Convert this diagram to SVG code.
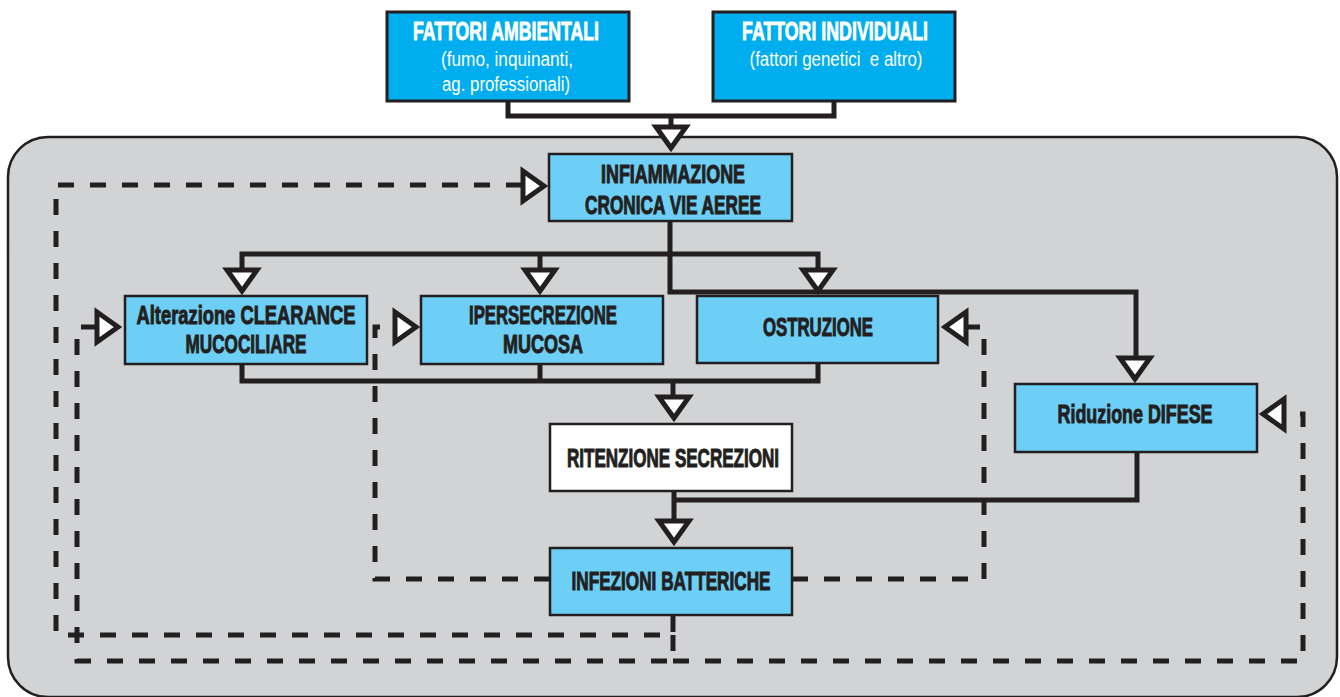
<svg xmlns="http://www.w3.org/2000/svg" width="1340" height="697" viewBox="0 0 1340 697">
<style>
.bg{fill:#D1D3D4;stroke:#231F20;stroke-width:2.5}
.top{fill:#00AEEF;stroke:#231F20;stroke-width:3}
.box{fill:#6DCFF6;stroke:#231F20;stroke-width:2.5}
.wbox{fill:#FFFFFF;stroke:#231F20;stroke-width:2.5}
.ln{fill:none;stroke:#231F20;stroke-width:5;stroke-linejoin:miter}
.dl{fill:none;stroke:#231F20;stroke-width:5;stroke-dasharray:16 16}
.ar{fill:#FFFFFF;stroke:#231F20;stroke-width:5;stroke-linejoin:miter}
.t{font-family:"Liberation Sans",Arial,sans-serif;font-weight:bold;font-size:26px;fill:#231F20;stroke:#231F20;stroke-width:1;text-anchor:middle}
.tw{font-family:"Liberation Sans",Arial,sans-serif;font-weight:bold;font-size:26px;fill:#FFFFFF;stroke:#FFFFFF;stroke-width:0.8;text-anchor:middle}
.s{font-family:"Liberation Sans",Arial,sans-serif;font-size:20px;fill:#FFFFFF;text-anchor:middle;white-space:pre}
</style>
<rect class="bg" x="8" y="137" width="1329" height="560" rx="40" ry="40"/>
<g id="connectors">
<path class="ln" d="M508,102 V116 H834 V102 M671,116 V128"/>
<path class="ln" d="M670,221 V292 H1136 V360"/>
<path class="ln" d="M242,272 V254 H818 V272 M540,254 V272"/>
<path class="ln" d="M242,364 V381 H818 V364 M540,364 V381 M673,381 V400"/>
<path class="ln" d="M674,492 V523 M674,500 H1137 V452"/>
<path class="dl" d="M550,579 H375 V327 H393"/>
<path class="dl" d="M792,579 H984 V327 H968"/>
<path class="dl" d="M673,616 V635 H56 V185 H521"/>
<path class="dl" d="M673,635 V661 H77 V327 H96"/>
<path class="dl" d="M673,661 H1303 V414 H1286"/>
<polygon class="ar" points="671,148 656,127 686,127"/>
<polygon class="ar" points="242,291 227,270 257,270"/>
<polygon class="ar" points="540,291 525,270 555,270"/>
<polygon class="ar" points="818,291 803,270 833,270"/>
<polygon class="ar" points="1135,379 1120,358 1150,358"/>
<polygon class="ar" points="674,418 659,397 689,397"/>
<polygon class="ar" points="674,542 659,521 689,521"/>
<polygon class="ar" points="544,186 523,171 523,201"/>
<polygon class="ar" points="118,327 97,312 97,342"/>
<polygon class="ar" points="416,327 395,312 395,342"/>
<polygon class="ar" points="945,327 966,312 966,342"/>
<polygon class="ar" points="1263,414 1284,399 1284,429"/>
</g>
<g id="n-ambientali">
<rect class="top" x="387" y="12" width="242" height="89"/>
<text class="tw" x="506" y="40" textLength="186" lengthAdjust="spacingAndGlyphs">FATTORI AMBIENTALI</text>
<text class="s" x="507" y="66" textLength="132" lengthAdjust="spacingAndGlyphs">(fumo, inquinanti,</text>
<text class="s" x="506" y="91" textLength="128" lengthAdjust="spacingAndGlyphs">ag. professionali)</text>
</g>
<g id="n-individuali">
<rect class="top" x="713" y="12" width="242" height="89"/>
<text class="tw" x="835" y="40" textLength="186" lengthAdjust="spacingAndGlyphs">FATTORI INDIVIDUALI</text>
<text class="s" x="836" y="66" textLength="173" lengthAdjust="spacingAndGlyphs" xml:space="preserve">(fattori genetici  e altro)</text>
</g>
<g id="n-infiammazione">
<rect class="box" x="549" y="154" width="243" height="67"/>
<text class="t" x="673" y="183" textLength="144" lengthAdjust="spacingAndGlyphs">INFIAMMAZIONE</text>
<text class="t" x="673" y="214" textLength="176" lengthAdjust="spacingAndGlyphs">CRONICA VIE AEREE</text>
</g>
<g id="n-clearance">
<rect class="box" x="125" y="296" width="242" height="68"/>
<text class="t" x="246" y="324" textLength="219" lengthAdjust="spacingAndGlyphs">Alterazione CLEARANCE</text>
<text class="t" x="246" y="353" textLength="121" lengthAdjust="spacingAndGlyphs">MUCOCILIARE</text>
</g>
<g id="n-ipersecrezione">
<rect class="box" x="421" y="296" width="242" height="68"/>
<text class="t" x="543" y="324" textLength="148" lengthAdjust="spacingAndGlyphs">IPERSECREZIONE</text>
<text class="t" x="543" y="353" textLength="80" lengthAdjust="spacingAndGlyphs">MUCOSA</text>
</g>
<g id="n-ostruzione">
<rect class="box" x="697" y="296" width="241" height="67"/>
<text class="t" x="818" y="336" textLength="110" lengthAdjust="spacingAndGlyphs">OSTRUZIONE</text>
</g>
<g id="n-difese">
<rect class="box" x="1015" y="384" width="242" height="68"/>
<text class="t" x="1135" y="423" textLength="155" lengthAdjust="spacingAndGlyphs">Riduzione DIFESE</text>
</g>
<g id="n-ritenzione">
<rect class="wbox" x="550" y="424" width="242" height="67"/>
<text class="t" x="673" y="467" textLength="212" lengthAdjust="spacingAndGlyphs">RITENZIONE SECREZIONI</text>
</g>
<g id="n-infezioni">
<rect class="box" x="550" y="548" width="242" height="67"/>
<text class="t" x="671" y="590" textLength="199" lengthAdjust="spacingAndGlyphs">INFEZIONI BATTERICHE</text>
</g>
</svg>
